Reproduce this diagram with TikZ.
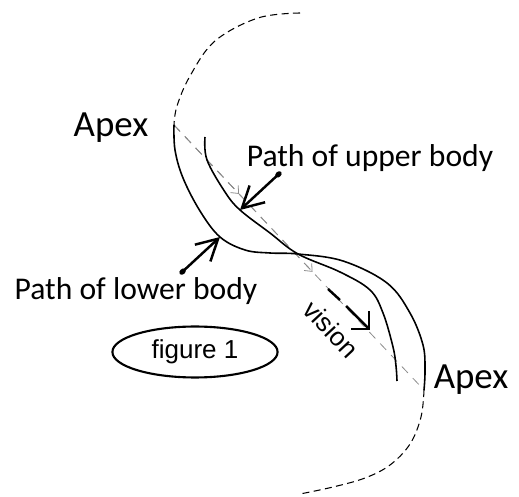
\documentclass[tikz,border=0pt]{standalone}
\usepackage{fontspec}
\setmainfont{Carlito}
\newfontfamily\plainsans{Liberation Sans}
\usetikzlibrary{arrows.meta,calc,shapes.geometric}
\tikzset{
  pathline/.style={black, line width=0.9pt},
  sketchdash/.style={black, line width=0.6pt, dash pattern=on 4pt off 2.5pt},
  sightline/.style={black!45, line width=0.45pt, dash pattern=on 5pt off 4pt},
  sightmark/.style={-{Straight Barb[length=3.5pt,width=6pt]}},
  pointer/.style={{Circle[length=4pt,width=3pt]}-{Straight Barb[length=12pt,width=13pt]},
                  line width=1.4pt},
  visarrow/.style={line width=1.4pt},
  lab/.style={font=\fontsize{18}{21}\selectfont},
  apexlab/.style={font=\fontsize{21}{25}\selectfont},
  plainlab/.style={font=\plainsans\fontsize{14.8}{17}\selectfont},
  tagbox/.style={draw=black, line width=1.2pt, ellipse, minimum width=94pt,
                 minimum height=29pt, inner sep=0pt},
}

\begin{document}
\begin{tikzpicture}[x=0.02cm,y=0.02cm]
  \path[use as bounding box] (0,0) rectangle (519,496);

  % Apex points and the line of sight.
  \coordinate (apexl) at (174,371);
  \coordinate (apexr) at (424,106);
  \draw[sightline] (apexl) -- (apexr);
  \draw[sightline, sightmark] (apexl) -- ($(apexl)!0.26!(apexr)$);
  \draw[sightline, sightmark] (apexl) -- ($(apexl)!0.554!(apexr)$);

  % Path of lower body (outer S).
  \draw[sketchdash] plot[smooth, tension=0.6] coordinates
    {(300,483) (258,478) (215,455) (190,420) (177,390) (apexl)};
  \draw[pathline] plot[smooth, tension=0.6] coordinates
    {(apexl) (175,346) (183,318) (200,285) (220,259) (245,246) (270,243)
     (298,242) (343,235) (387,213) (410,183) (423,151) (425,126) (apexr)};
  \draw[sketchdash] plot[smooth, tension=0.6] coordinates
    {(apexr) (421,79) (410,52) (390,31) (365,18) (333,9) (300,2)};

  % Path of upper body (inner S).
  \draw[pathline] plot[smooth, tension=0.6] coordinates
    {(205,359) (207,336) (225,304) (240,286) (270,263) (298,242) (340,224)
     (370,206) (383,183) (393,149) (396,130) (397,115)};

  % Labels with pointers.
  \node[apexlab, anchor=base] (apexltext) at (111,359) {Apex};
  \node[apexlab, anchor=base] (apexrtext) at (471,108) {Apex};
  \node[lab, anchor=base] (uppertext) at (370,329) {Path of upper body};
  \node[lab, anchor=base] (lowertext) at (136,196) {Path of lower body};
  \coordinate (upperdot) at (281,324);
  \coordinate (uppertip) at (240,286);
  \coordinate (lowerdot) at (180,222);
  \coordinate (lowertip) at (220,259);
  \draw[pointer] (upperdot) -- (uppertip);
  \draw[pointer] (lowerdot) -- (lowertip);

  % Vision.
  \node[plainlab, rotate=-47] (visiontext) at (331,167) {vision};
  \coordinate (visa) at (328,207);
  \coordinate (visb) at (340,196);
  \coordinate (visc) at (346,190);
  \coordinate (visd) at (370,166);
  \draw[visarrow] (visa) -- (visb);
  \draw[visarrow, -{Straight Barb[length=7pt,width=14pt]}] (visc) -- (visd);

  \node[tagbox, plainlab] (tag) at (195,144) {figure 1};
\end{tikzpicture}
\end{document}
